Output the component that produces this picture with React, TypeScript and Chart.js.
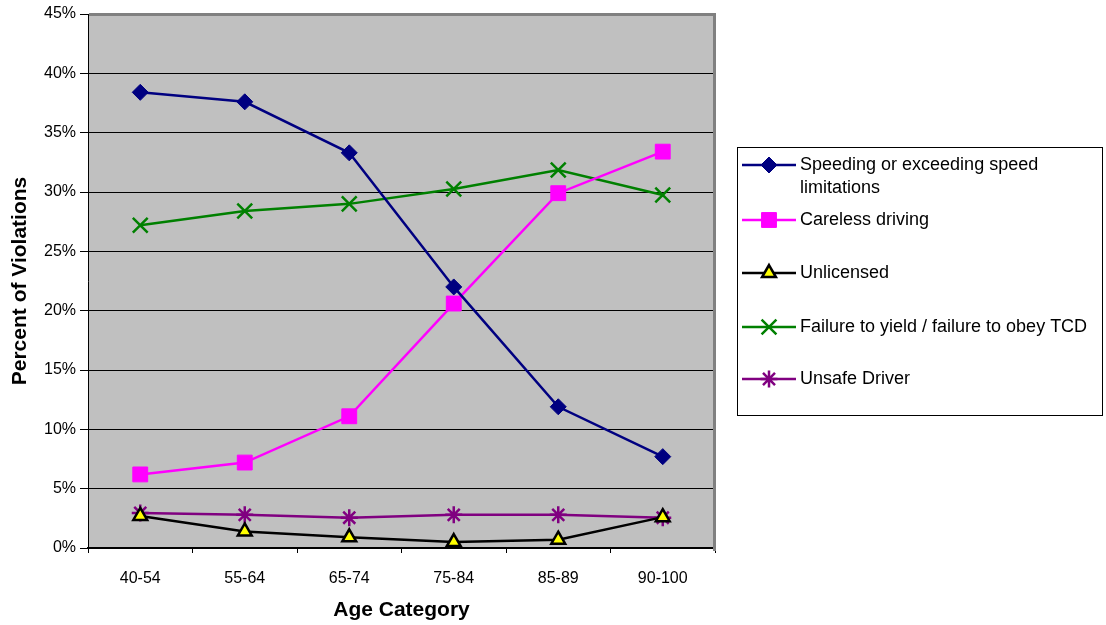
import React, { useEffect, useRef } from 'react';
import { Chart, registerables } from 'chart.js';
import { drawPoint } from 'chart.js/helpers';

Chart.register(...registerables);

const categories = ['40-54', '55-64', '65-74', '75-84', '85-89', '90-100'];
const speeding = [38.4, 37.6, 33.3, 22.0, 11.9, 7.7];
const careless = [6.2, 7.2, 11.1, 20.6, 29.9, 33.4];
const unlicensed = [2.7, 1.4, 0.9, 0.5, 0.7, 2.6];
const failureToYield = [27.2, 28.4, 29.0, 30.25, 31.85, 29.75];
const unsafeDriver = [2.95, 2.8, 2.55, 2.8, 2.8, 2.55];

const seriesLabels = [
  'Speeding or exceeding speed limitations',
  'Careless driving',
  'Unlicensed',
  'Failure to yield / failure to obey TCD',
  'Unsafe Driver',
];
const legendLines = [
  ['Speeding or exceeding speed', 'limitations'],
  ['Careless driving'],
  ['Unlicensed'],
  ['Failure to yield / failure to obey TCD'],
  ['Unsafe Driver'],
];
const yMin = 0;
const yMax = 45;
const yStep = 5;

const FONT = '"Liberation Sans", Arial, sans-serif';

const plotBgPlugin = {
  id: 'plotBg',
  beforeDraw(chart: any) {
    const { ctx, chartArea } = chart;
    ctx.save();
    ctx.fillStyle = '#C0C0C0';
    ctx.fillRect(chartArea.left, chartArea.top, chartArea.right - chartArea.left, chartArea.bottom - chartArea.top);
    ctx.restore();
  },
  beforeDatasetsDraw(chart: any) {
    const { ctx, chartArea } = chart;
    ctx.save();
    ctx.strokeStyle = '#808080';
    ctx.lineWidth = 3;
    ctx.beginPath();
    ctx.moveTo(chartArea.right - 0.5, chartArea.top - 1);
    ctx.lineTo(chartArea.right - 0.5, chartArea.bottom + 3);
    ctx.stroke();
    ctx.restore();
  },
};

const legendPlugin = {
  id: 'customLegend',
  afterDraw(chart: any) {
    const { ctx } = chart;
    const box = { x: 737.5, y: 147.5, w: 365, h: 268 };
    const rows = [165, 220, 273, 327, 379];
    ctx.save();
    ctx.strokeStyle = '#000';
    ctx.lineWidth = 1;
    ctx.strokeRect(box.x, box.y, box.w, box.h);
    chart.data.datasets.forEach((ds: any, i: number) => {
      const y = rows[i];
      ctx.strokeStyle = ds.borderColor;
      ctx.lineWidth = ds.borderWidth;
      ctx.beginPath();
      ctx.moveTo(742, y);
      ctx.lineTo(796, y);
      ctx.stroke();
      ctx.fillStyle = ds.pointBackgroundColor;
      ctx.strokeStyle = ds.pointBorderColor;
      ctx.lineWidth = ds.pointBorderWidth;
      drawPoint(ctx, { pointStyle: ds.pointStyle, radius: ds.pointRadius, rotation: 0, borderWidth: ds.pointBorderWidth }, 769, y);
      ctx.fillStyle = '#000';
      ctx.font = `18px ${FONT}`;
      ctx.textBaseline = 'middle';
      ctx.textAlign = 'left';
      legendLines[i].forEach((t, j) => {
        ctx.fillText(t, 800, y + j * 23);
      });
    });
    ctx.restore();
  },
};

export default function App() {
  const ref = useRef<HTMLCanvasElement | null>(null);
  useEffect(() => {
    if (!ref.current) return;
    const mk = (label: string, data: number[], color: string, style: string, radius: number, fill: string, bw: number) => ({
      label,
      data,
      borderColor: color,
      backgroundColor: fill,
      borderWidth: 2.5,
      pointStyle: style,
      pointRadius: radius,
      pointHoverRadius: radius,
      pointBackgroundColor: fill,
      pointBorderColor: color,
      pointBorderWidth: bw,
      tension: 0,
    });
    const chart = new Chart(ref.current, {
      type: 'line',
      data: {
        labels: categories,
        datasets: [
          mk(seriesLabels[0], speeding, '#000080', 'rectRot', 8, '#000080', 1),
          mk(seriesLabels[1], careless, '#FF00FF', 'rect', 10.5, '#FF00FF', 1),
          mk(seriesLabels[2], unlicensed, '#000000', 'triangle', 8, '#FFFF00', 2.5),
          mk(seriesLabels[3], failureToYield, '#008000', 'crossRot', 10.5, '#008000', 2.5),
          mk(seriesLabels[4], unsafeDriver, '#800080', 'star', 8.5, '#800080', 2.5),
        ],
      },
      options: {
        animation: false,
        responsive: false,
        maintainAspectRatio: false,
        layout: { padding: { left: 0, top: 14, right: 391, bottom: 0 } },
        plugins: { legend: { display: false }, tooltip: { enabled: false } },
        scales: {
          x: {
            type: 'category',
            offset: true,
            afterFit(scale: any) { scale.height = 77; },
            grid: {
              offset: true,
              drawOnChartArea: false,
              drawTicks: true,
              tickLength: 5,
              color: '#000',
              lineWidth: 1,
            },
            border: { display: true, color: '#000', width: 2 },
            ticks: { color: '#000', font: { family: FONT, size: 16 }, padding: 16, maxRotation: 0 },
            title: {
              display: true,
              text: 'Age Category',
              color: '#000',
              font: { family: FONT, size: 21, weight: 'bold' },
              padding: { top: 0, bottom: 2 },
            },
          },
          y: {
            min: yMin,
            max: yMax,
            afterFit(scale: any) { scale.width = 88; },
            grid: {
              color: (c: any) => (c.tick && c.tick.value === yMax ? '#808080' : '#000'),
              lineWidth: (c: any) => (c.tick && c.tick.value === yMax ? 3 : 1),
              tickColor: '#000',
              tickWidth: 1,
              tickLength: 8,
              drawTicks: true,
            },
            border: { display: true, color: '#000', width: 1 },
            ticks: {
              stepSize: yStep,
              color: '#000',
              padding: 4,
              font: { family: FONT, size: 16 },
              callback: (v: any) => `${v}%`,
            },
            title: {
              display: true,
              text: 'Percent of Violations',
              color: '#000',
              font: { family: FONT, size: 21, weight: 'bold' },
              padding: { top: 8, bottom: 0 },
            },
          },
        },
      } as any,
      plugins: [plotBgPlugin, legendPlugin],
    });
    return () => chart.destroy();
  }, []);
  return (
    <div style={{ position: 'fixed', left: 0, top: 0, width: 1106, height: 625, background: '#fff' }}>
      <canvas ref={ref} width={1106} height={625} style={{ width: 1106, height: 625, display: 'block' }} />
    </div>
  );
}
